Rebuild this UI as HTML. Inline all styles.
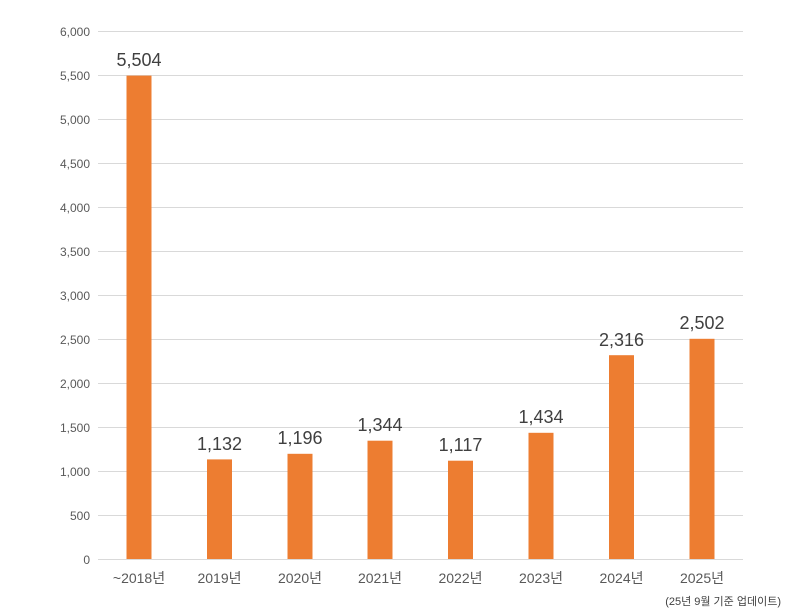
<!DOCTYPE html><html><head><meta charset="utf-8"><style>body{margin:0;background:#fff}svg{display:block}text{font-family:"Liberation Sans","Noto Sans CJK KR",sans-serif}</style></head><body>
<svg width="800" height="612" xmlns="http://www.w3.org/2000/svg">
<g stroke="#d9d9d9" stroke-width="1">
<line x1="98" x2="743" y1="31.5" y2="31.5"/><line x1="98" x2="743" y1="75.5" y2="75.5"/><line x1="98" x2="743" y1="119.5" y2="119.5"/><line x1="98" x2="743" y1="163.5" y2="163.5"/><line x1="98" x2="743" y1="207.5" y2="207.5"/><line x1="98" x2="743" y1="251.5" y2="251.5"/><line x1="98" x2="743" y1="295.5" y2="295.5"/><line x1="98" x2="743" y1="339.5" y2="339.5"/><line x1="98" x2="743" y1="383.5" y2="383.5"/><line x1="98" x2="743" y1="427.5" y2="427.5"/><line x1="98" x2="743" y1="471.5" y2="471.5"/><line x1="98" x2="743" y1="515.5" y2="515.5"/><line x1="98" x2="743" y1="559.5" y2="559.5"/>
</g>
<g font-size="12" fill="#595959" text-anchor="end">
<text x="90" y="36">6,000</text><text x="90" y="80">5,500</text><text x="90" y="124">5,000</text><text x="90" y="168">4,500</text><text x="90" y="212">4,000</text><text x="90" y="256">3,500</text><text x="90" y="300">3,000</text><text x="90" y="344">2,500</text><text x="90" y="388">2,000</text><text x="90" y="432">1,500</text><text x="90" y="476">1,000</text><text x="90" y="520">500</text><text x="90" y="564">0</text>
</g>
<g fill="#ed7d31">
<rect x="126.5" y="75.6" width="25" height="483.4"/>
<rect x="207" y="459.4" width="25" height="99.6"/>
<rect x="287.5" y="453.8" width="25" height="105.2"/>
<rect x="367.5" y="440.7" width="25" height="118.3"/>
<rect x="448" y="460.7" width="25" height="98.3"/>
<rect x="528.5" y="432.8" width="25" height="126.2"/>
<rect x="609" y="355.2" width="25" height="203.8"/>
<rect x="689.5" y="338.8" width="25" height="220.2"/>
</g>
<g font-size="18" fill="#404040" text-anchor="middle">
<text x="139" y="66">5,504</text><text x="219.5" y="450">1,132</text><text x="300" y="444">1,196</text><text x="380" y="431">1,344</text><text x="460.5" y="451">1,117</text><text x="541" y="423">1,434</text><text x="621.5" y="346">2,316</text><text x="702" y="329">2,502</text>
</g>
<g font-size="14" fill="#595959" text-anchor="middle">
<text x="139" y="583">~2018년</text><text x="219.5" y="583">2019년</text><text x="300" y="583">2020년</text><text x="380" y="583">2021년</text><text x="460.5" y="583">2022년</text><text x="541" y="583">2023년</text><text x="621.5" y="583">2024년</text><text x="702" y="583">2025년</text>
</g>
<text x="781" y="605" font-size="11" fill="#404040" text-anchor="end">(25년 9월 기준 업데이트)</text>
</svg>
</body></html>
